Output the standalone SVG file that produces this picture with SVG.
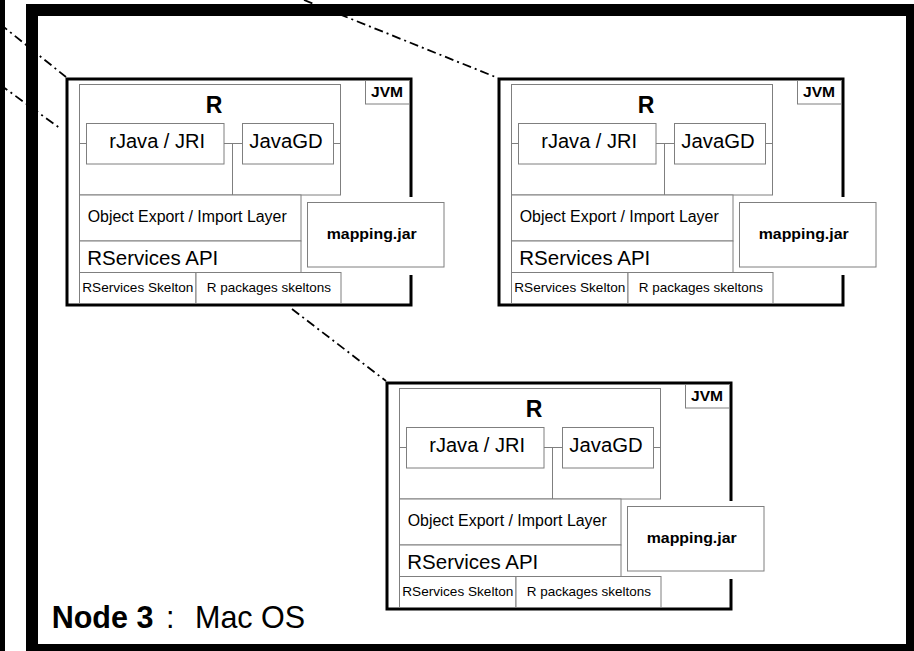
<svg xmlns="http://www.w3.org/2000/svg" width="914" height="651" viewBox="0 0 914 651">
  <style>
    .frame { fill: none; stroke: #000; stroke-width: 12; }
    .edge { fill: #000; }
    .nodebox { fill: #fff; stroke: #000; stroke-width: 3; }
    .box { fill: #fff; stroke: #7f7f7f; stroke-width: 1; }
    .wire { fill: none; stroke: #7f7f7f; stroke-width: 1; }
    .patch { fill: #fff; }
    .link { fill: none; stroke: #000; stroke-width: 1.8; stroke-dasharray: 9 4 2 4; }
    text { font-family: "Liberation Sans", Arial, Helvetica, sans-serif; fill: #000; }
    .b { font-weight: bold; }
    .jvm { font-size: 14.5px; font-weight: bold; }
    .rtitle { font-size: 23px; font-weight: bold; text-anchor: middle; }
    .lib { font-size: 20px; }
    .layer { font-size: 16px; }
    .api { font-size: 20.3px; }
    .skel { font-size: 13px; }
    .jar { font-size: 15.5px; font-weight: bold; }
    .caption { font-size: 30.5px; }
  </style>

  <rect x="0" y="0" width="914" height="651" fill="#fff"/>

  <!-- dash-dot zoom lines -->
  <g id="connectors">
    <line class="link" x1="0" y1="24" x2="66" y2="77"/>
    <line class="link" x1="0" y1="84.7" x2="60" y2="128.3"/>
    <line class="link" x1="304" y1="0" x2="498" y2="78"/>
    <line class="link" x1="292" y1="309" x2="386" y2="381"/>
  </g>

  <!-- page edge and outer frame -->
  <rect class="edge" x="0" y="0" width="5" height="651"/>
  <rect class="frame" x="32" y="10" width="880" height="640"/>

  <g id="node1">
    <rect class="nodebox" x="67" y="79" width="344" height="226"/>
    <rect class="box" x="365.5" y="80.5" width="44" height="23.5"/>
    <text class="jvm" x="371" y="97" textLength="32" lengthAdjust="spacingAndGlyphs">JVM</text>
    <rect class="box" x="79.5" y="84.5" width="261" height="110.5"/>
    <text class="rtitle" x="214" y="112.7">R</text>
    <path class="wire" d="M79.5 143.5H86.5M224 143.5H242.5M333.5 143.5H340.5M232.5 143.5V195"/>
    <rect class="box" x="86.5" y="123.5" width="137.5" height="40.5"/>
    <text class="lib" x="109.3" y="147.5" textLength="95.7" lengthAdjust="spacingAndGlyphs">rJava / JRI</text>
    <rect class="box" x="242.5" y="123.5" width="91" height="40.5"/>
    <text class="lib" x="249.3" y="147.5" textLength="73.4" lengthAdjust="spacingAndGlyphs">JavaGD</text>
    <rect class="box" x="79.5" y="195" width="221.5" height="46"/>
    <text class="layer" x="87.7" y="222" textLength="199" lengthAdjust="spacingAndGlyphs">Object Export / Import Layer</text>
    <rect class="box" x="79.5" y="241" width="221.5" height="31.5"/>
    <text class="api" x="87.3" y="264.5" textLength="131" lengthAdjust="spacingAndGlyphs">RServices API</text>
    <rect class="box" x="79.5" y="272.5" width="116.5" height="31"/>
    <text class="skel" x="82.3" y="291.5" textLength="111" lengthAdjust="spacingAndGlyphs">RServices Skelton</text>
    <rect class="box" x="196" y="272.5" width="145" height="31"/>
    <text class="skel" x="206.7" y="291.5" textLength="124.3" lengthAdjust="spacingAndGlyphs">R packages skeltons</text>
    <rect class="patch" x="404" y="197" width="12" height="78"/>
    <rect class="box" x="307.5" y="202.5" width="136.5" height="64.5"/>
    <text class="jar" x="326.7" y="238.5" textLength="90" lengthAdjust="spacingAndGlyphs">mapping.jar</text>
  </g>

  <g id="node2" transform="translate(432,0)">
    <rect class="nodebox" x="67" y="79" width="344" height="226"/>
    <rect class="box" x="365.5" y="80.5" width="44" height="23.5"/>
    <text class="jvm" x="371" y="97" textLength="32" lengthAdjust="spacingAndGlyphs">JVM</text>
    <rect class="box" x="79.5" y="84.5" width="261" height="110.5"/>
    <text class="rtitle" x="214" y="112.7">R</text>
    <path class="wire" d="M79.5 143.5H86.5M224 143.5H242.5M333.5 143.5H340.5M232.5 143.5V195"/>
    <rect class="box" x="86.5" y="123.5" width="137.5" height="40.5"/>
    <text class="lib" x="109.3" y="147.5" textLength="95.7" lengthAdjust="spacingAndGlyphs">rJava / JRI</text>
    <rect class="box" x="242.5" y="123.5" width="91" height="40.5"/>
    <text class="lib" x="249.3" y="147.5" textLength="73.4" lengthAdjust="spacingAndGlyphs">JavaGD</text>
    <rect class="box" x="79.5" y="195" width="221.5" height="46"/>
    <text class="layer" x="87.7" y="222" textLength="199" lengthAdjust="spacingAndGlyphs">Object Export / Import Layer</text>
    <rect class="box" x="79.5" y="241" width="221.5" height="31.5"/>
    <text class="api" x="87.3" y="264.5" textLength="131" lengthAdjust="spacingAndGlyphs">RServices API</text>
    <rect class="box" x="79.5" y="272.5" width="116.5" height="31"/>
    <text class="skel" x="82.3" y="291.5" textLength="111" lengthAdjust="spacingAndGlyphs">RServices Skelton</text>
    <rect class="box" x="196" y="272.5" width="145" height="31"/>
    <text class="skel" x="206.7" y="291.5" textLength="124.3" lengthAdjust="spacingAndGlyphs">R packages skeltons</text>
    <rect class="patch" x="404" y="197" width="12" height="78"/>
    <rect class="box" x="307.5" y="202.5" width="136.5" height="64.5"/>
    <text class="jar" x="326.7" y="238.5" textLength="90" lengthAdjust="spacingAndGlyphs">mapping.jar</text>
  </g>

  <g id="node3" transform="translate(320,304)">
    <rect class="nodebox" x="67" y="79" width="344" height="226"/>
    <rect class="box" x="365.5" y="80.5" width="44" height="23.5"/>
    <text class="jvm" x="371" y="97" textLength="32" lengthAdjust="spacingAndGlyphs">JVM</text>
    <rect class="box" x="79.5" y="84.5" width="261" height="110.5"/>
    <text class="rtitle" x="214" y="112.7">R</text>
    <path class="wire" d="M79.5 143.5H86.5M224 143.5H242.5M333.5 143.5H340.5M232.5 143.5V195"/>
    <rect class="box" x="86.5" y="123.5" width="137.5" height="40.5"/>
    <text class="lib" x="109.3" y="147.5" textLength="95.7" lengthAdjust="spacingAndGlyphs">rJava / JRI</text>
    <rect class="box" x="242.5" y="123.5" width="91" height="40.5"/>
    <text class="lib" x="249.3" y="147.5" textLength="73.4" lengthAdjust="spacingAndGlyphs">JavaGD</text>
    <rect class="box" x="79.5" y="195" width="221.5" height="46"/>
    <text class="layer" x="87.7" y="222" textLength="199" lengthAdjust="spacingAndGlyphs">Object Export / Import Layer</text>
    <rect class="box" x="79.5" y="241" width="221.5" height="31.5"/>
    <text class="api" x="87.3" y="264.5" textLength="131" lengthAdjust="spacingAndGlyphs">RServices API</text>
    <rect class="box" x="79.5" y="272.5" width="116.5" height="31"/>
    <text class="skel" x="82.3" y="291.5" textLength="111" lengthAdjust="spacingAndGlyphs">RServices Skelton</text>
    <rect class="box" x="196" y="272.5" width="145" height="31"/>
    <text class="skel" x="206.7" y="291.5" textLength="124.3" lengthAdjust="spacingAndGlyphs">R packages skeltons</text>
    <rect class="patch" x="404" y="197" width="12" height="78"/>
    <rect class="box" x="307.5" y="202.5" width="136.5" height="64.5"/>
    <text class="jar" x="326.7" y="238.5" textLength="90" lengthAdjust="spacingAndGlyphs">mapping.jar</text>
  </g>

  <g id="caption">
    <text class="caption" y="627.7"><tspan class="b" x="51.7">Node 3</tspan><tspan x="166">:</tspan><tspan x="195">Mac OS</tspan></text>
  </g>
</svg>
